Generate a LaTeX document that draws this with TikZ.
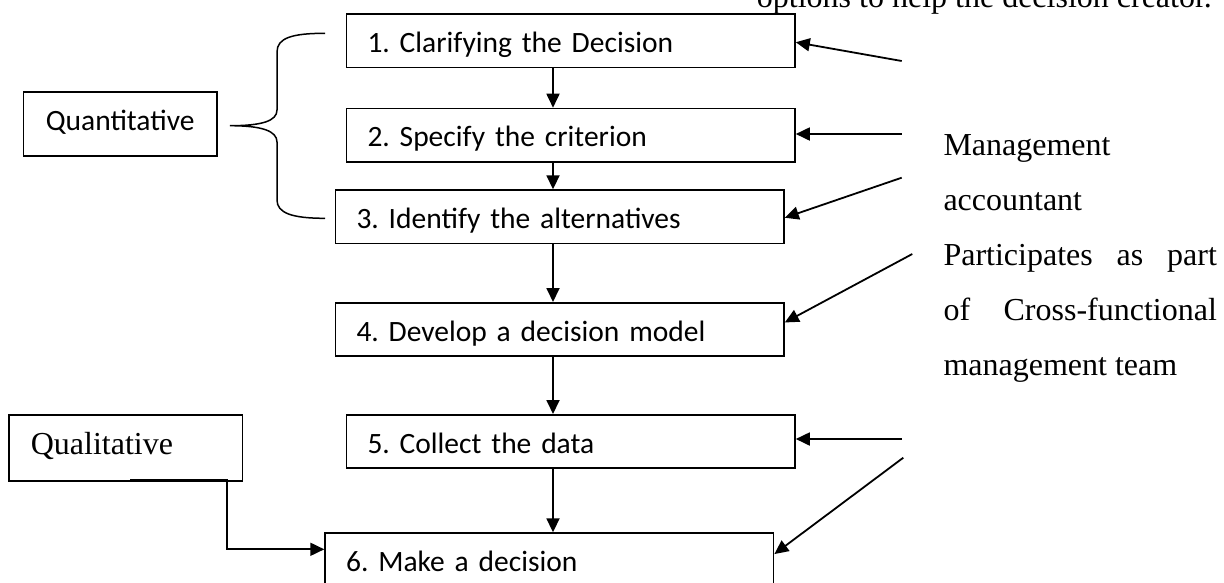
\documentclass[tikz,border=0pt]{standalone}
\usepackage{fontspec}
\setmainfont{Liberation Serif}
\newfontfamily\calfont[WordSpace=0.75]{Carlito}
\usetikzlibrary{arrows.meta,calc}
\frenchspacing
\begin{document}
\begin{tikzpicture}[x=1pt,y=-1pt,
  stepbox/.style={draw, line width=1.6pt, rectangle, anchor=north west,
    minimum width=448.5pt, minimum height=53.3pt, inner xsep=21pt, inner ysep=0pt,
    text width=406.5pt, align=left, font=\calfont\fontsize{29.5}{34}\selectfont\frenchspacing,
    text height=27.4pt, text depth=4pt},
  arr/.style={line width=1.8pt, -{Triangle[length=14pt,width=13pt]}},
  serif/.style={font=\fontsize{32}{38}\selectfont, inner sep=0pt, anchor=base west}]
\useasboundingbox (0,0) rectangle (1224,582);
\clip (0,0) rectangle (1224,582);
% flow boxes
\node[stepbox] (b1) at (345.7,13.3) {1. Clarifying the Decision};
\node[stepbox] (b2) at (345.7,107.7) {2. Specify the criterion};
\node[stepbox] (b3) at (334.7,189.3) {3. Identify the alternatives};
\node[stepbox] (b4) at (334.7,302) {4. Develop a decision model};
\node[stepbox] (b5) at (345.7,414) {5. Collect the data};
\node[stepbox] (b6) at (324.3,532.3) {6. Make a decision};
% left boxes
\node[draw, line width=1.6pt, anchor=north west, minimum width=193.3pt, minimum height=64pt,
  inner sep=0pt, font=\calfont\fontsize{29.5}{34}\selectfont, text height=20pt, text depth=6pt]
  (quant) at (22.7,91) {Quantitative};
\node[draw, line width=1.6pt, anchor=north west, minimum width=233.4pt, minimum height=66pt,
  inner xsep=21.7pt, inner ysep=0pt, text width=190pt, align=left,
  font=\fontsize{32}{38}\selectfont, text height=22pt, text depth=9.4pt]
  (qual) at (8.3,414) {Qualitative};
% vertical flow arrows
\coordinate (ax) at (553,0);
\draw[arr] (b1.south -| ax) -- (b2.north -| ax);
\draw[arr] (b2.south -| ax) -- (b3.north -| ax);
\draw[arr] (b3.south -| ax) -- (b4.north -| ax);
\draw[arr] (b4.south -| ax) -- (b5.north -| ax);
\draw[arr] (b5.south -| ax) -- (b6.north -| ax);
% brace
\draw[line width=1.5pt] (325,33.3) .. controls (292,33.3) and (277,38) .. (277,52)
  -- (277,110) .. controls (277,121) and (262,125.7) .. (230,125.7)
  .. controls (262,125.7) and (277,131) .. (277,142)
  -- (277,200) .. controls (277,213) and (292,218.3) .. (325,218.3);
% qualitative connector
\coordinate (qs) at (130,480);
\coordinate (qc) at (226.7,549.3);
\draw[arr] (qs) -- (qs -| qc) -- (qc) -- (qc -| b6.west);
% right arrows
\coordinate (s1) at (901.7,61);
\coordinate (s2) at (901.7,134);
\coordinate (s3) at (901.7,177.7);
\coordinate (s4) at (912.3,254);
\coordinate (s5) at (901.7,439);
\coordinate (s6) at (903.3,457.7);
\draw[arr] (s1) -- ($(b1.east)+(0,1.5)$);
\draw[arr] (s2) -- (s2 -| b2.east);
\draw[arr] (s3) -- ($(b3.east)+(0,1)$);
\draw[arr] (s4) -- ($(b4.east)+(0,-7)$);
\draw[arr] (s5) -- (s5 -| b5.east);
\draw[arr] (s6) -- ($(b6.east)+(0,-5.7)$);
% right text
\node[serif] (t0) at (756.7,7.5) {options to help the decision creator.};
\node[serif] (t1) at (943.3,155) {Management};
\node[serif] (t2) at (943.3,210) {accountant};
\node[serif] (t3) at (943.3,265) {\hbox to 273.4pt{Participates\hfill as\hfill part}};
\node[serif] (t4) at (943.3,320) {\hbox to 273.4pt{of\hfill Cross-functional}};
\node[serif] (t5) at (943.3,375) {management team};
\end{tikzpicture}
\end{document}
